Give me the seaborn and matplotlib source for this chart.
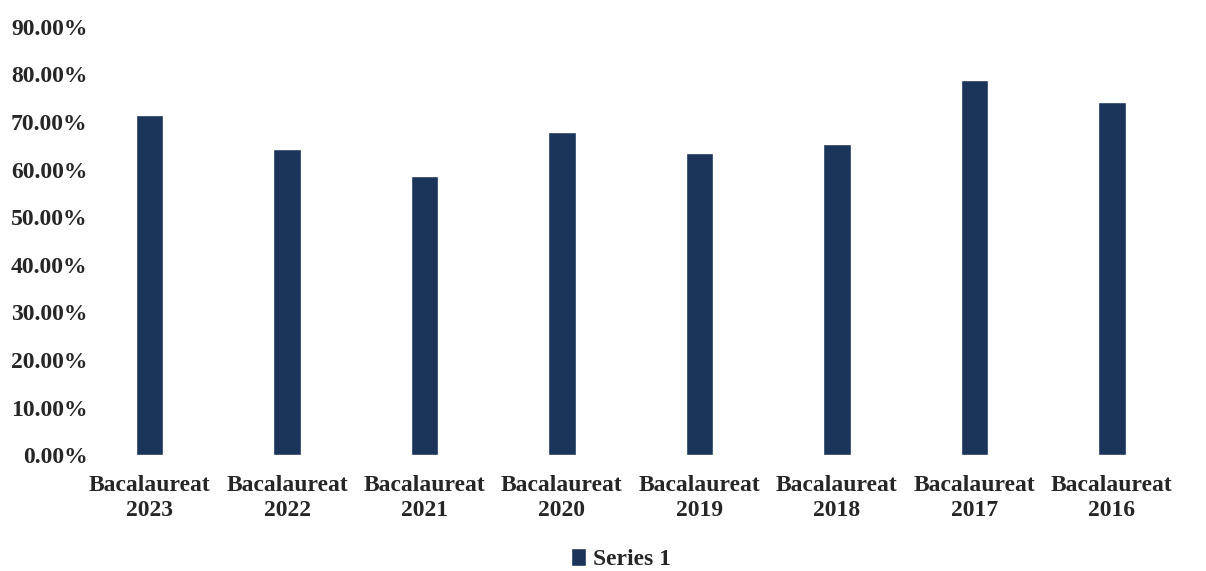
import matplotlib
matplotlib.use("Agg")
import matplotlib.pyplot as plt
import seaborn as sns
import pandas as pd
from matplotlib.patches import Patch

categories = ["Bacalaureat\n2023", "Bacalaureat\n2022", "Bacalaureat\n2021", "Bacalaureat\n2020",
              "Bacalaureat\n2019", "Bacalaureat\n2018", "Bacalaureat\n2017", "Bacalaureat\n2016"]
series1 = [71.5, 64.3, 58.7, 67.8, 63.4, 65.3, 78.8, 74.2]
yticks = [0, 10, 20, 30, 40, 50, 60, 70, 80, 90]
series_name = "Series 1"

sns.set_theme(style="white")
plt.rcParams['font.family'] = ['Liberation Serif', 'DejaVu Serif']
plt.rcParams['font.weight'] = 'bold'

bar_color = "#1b355a"
df = pd.DataFrame({"cat": categories, "val": series1})

fig = plt.figure(figsize=(12.06, 5.71), dpi=100)
ax = fig.add_axes([0.067, 0.203, 0.912, 0.750])
sns.barplot(data=df, x="cat", y="val", color=bar_color, width=0.2, saturation=1, ax=ax)
ax.set_ylim(0, 90)
ax.set_yticks(yticks)
ax.set_yticklabels([f"{v:.2f}%" for v in yticks], fontsize=17, fontweight='bold')
ax.set_xticks(range(len(categories)))
ax.set_xticklabels(categories, fontsize=17, fontweight='bold', linespacing=1.25)
ax.set_xlabel("")
ax.set_ylabel("")
ax.tick_params(axis='both', length=0)
ax.tick_params(axis='y', pad=-5)
ax.tick_params(axis='x', pad=14)
for s in ax.spines.values():
    s.set_visible(False)
ax.grid(False)

handles = [Patch(facecolor=bar_color, label=series_name)]
fig.legend(handles=handles, loc='center', bbox_to_anchor=(0.515, 1 - 559 / 571), frameon=False,
           prop={'family': 'Liberation Serif', 'weight': 'bold', 'size': 17},
           handlelength=0.6, handleheight=0.8, handletextpad=0.3, borderpad=0)

fig.savefig("out.png", dpi=100, facecolor="white")
